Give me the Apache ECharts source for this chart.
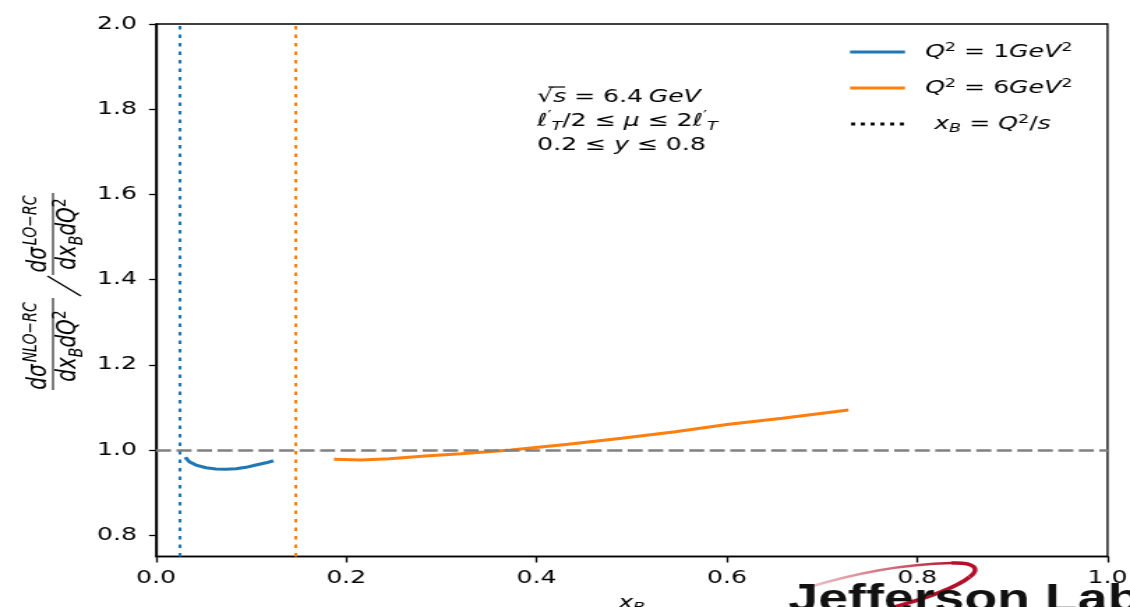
<!DOCTYPE html>
<html><head><meta charset="utf-8">
<script src="https://cdn.jsdelivr.net/npm/echarts@6.0.0/dist/echarts.min.js"></script>
<style>
html,body{margin:0;padding:0;background:#fff;overflow:hidden;width:1130px;height:607px}
#c{width:810px;height:607px;transform:scaleX(1.3950617);transform-origin:0 0}
</style></head><body><div id="c"></div>
<script>
// ---- data ----
const q1X = [0.0308, 0.035, 0.042, 0.0526, 0.063, 0.0736, 0.0841, 0.0946, 0.105, 0.1157, 0.1234];
const q1Y = [0.983, 0.9725, 0.9647, 0.9584, 0.9553, 0.9546, 0.956, 0.9593, 0.9647, 0.970, 0.9748];
const q6X = [0.187, 0.2153, 0.2453, 0.2829, 0.3204, 0.373, 0.4331, 0.4894, 0.5457, 0.602, 0.6583, 0.7277];
const q6Y = [0.978, 0.9765, 0.9796, 0.9859, 0.9913, 1.0, 1.0134, 1.0275, 1.043, 1.0605, 1.0746, 1.0941];
const xbLines = [0.0244, 0.1465];          // x_B = Q^2/s for Q^2 = 1 and 6 GeV^2
const refY = 1.0;
const yTicks = [0.8, 1.0, 1.2, 1.4, 1.6, 1.8, 2.0];
const seriesNames = ['Q1', 'Q6', 'xB'];
const colors = ['#1f77b4', '#ff7f0e', '#000000'];

const F = 'DejaVu Sans';
const legendText = {
  Q1: '{q0|Q}{s|2}{n| = 1}{q|GeV}{s|2}',
  Q6: '{q0|Q}{s|2}{n| = 6}{q|GeV}{s|2}',
  xB: '{x0|x}{b|B}{n| = }{q|Q}{s|2}{n|/}{q|s}'
};
const legRich = {
  q0: {fontFamily: F, fontStyle: 'italic', fontSize: 18, lineHeight: 22, color: '#000', padding: [0, 0, 0, 9.5]},
  x0: {fontFamily: F, fontStyle: 'italic', fontSize: 18, lineHeight: 22, color: '#000', padding: [0, 0, 0, 16]},
  q: {fontFamily: F, fontStyle: 'italic', fontSize: 18, lineHeight: 22, color: '#000'},
  n: {fontFamily: F, fontSize: 18, lineHeight: 22, color: '#000'},
  s: {fontFamily: F, fontSize: 12.6, lineHeight: 13, verticalAlign: 'top', color: '#000'},
  b: {fontFamily: F, fontStyle: 'italic', fontSize: 12.6, lineHeight: 16, verticalAlign: 'bottom', color: '#000'}
};
const labRich = {
  m: {fontFamily: F, fontStyle: 'italic', fontSize: 20, lineHeight: 26, color: '#000'},
  p: {fontFamily: F, fontStyle: 'italic', fontSize: 14, lineHeight: 14, verticalAlign: 'top', color: '#000', padding: [0, 0, 0, 2]},
  u: {fontFamily: F, fontSize: 14, lineHeight: 14, verticalAlign: 'top', color: '#000'},
  b: {fontFamily: F, fontStyle: 'italic', fontSize: 14, lineHeight: 18, verticalAlign: 'bottom', color: '#000'}
};
const annRich = {
  n: {fontFamily: F, fontSize: 18, lineHeight: 24, color: '#000'},
  i: {fontFamily: F, fontStyle: 'italic', fontSize: 18, lineHeight: 24, color: '#000'},
  g: {fontFamily: F, fontStyle: 'italic', fontSize: 18, lineHeight: 24, color: '#000', padding: [0, 0, 0, 4]},
  ps: {fontFamily: F, fontSize: 12.6, lineHeight: 12, verticalAlign: 'top', color: '#000'},
  sb: {fontFamily: F, fontStyle: 'italic', fontSize: 12.6, lineHeight: 16, verticalAlign: 'bottom', color: '#000'}
};

const chart = echarts.init(document.getElementById('c'), null, {renderer: 'canvas'});
const pairs = (xs, ys) => xs.map((x, i) => [x, ys[i]]);
const dotted = (c) => ({color: c, width: 2.1, type: [3.5, 5]});
const swooshGrad = new echarts.graphic.LinearGradient(0, 0, 1, 0, [
  {offset: 0, color: 'rgba(225,160,170,0.6)'}, {offset: 1, color: '#b5102a'}]);

const option = {
  animation: false,
  backgroundColor: '#fff',
  grid: {left: 111.8, right: 16.1, top: 24, bottom: 50.5, containLabel: false, outerBoundsMode: 'none',
    show: true, borderColor: '#000', borderWidth: 1.3, backgroundColor: 'transparent'},
  xAxis: {
    type: 'value', min: 0, max: 1, interval: 0.2,
    name: '{i|x}{b|B}', nameLocation: 'middle', nameGap: 36,
    nameTextStyle: {rich: {i: legRich.q, b: legRich.b}},
    axisLine: {lineStyle: {color: '#000', width: 1.3}},
    axisTick: {inside: false, length: 6, lineStyle: {color: '#000', width: 1.3}},
    axisLabel: {fontFamily: F, fontSize: 18, color: '#000', margin: 13, formatter: v => v.toFixed(1)},
    splitLine: {show: false}
  },
  yAxis: {
    type: 'value', min: 0.75, max: 2.0,
    axisLine: {show: true, lineStyle: {color: '#000', width: 1.3}},
    axisTick: {show: true, length: 5, customValues: yTicks, lineStyle: {color: '#000', width: 1.3}},
    axisLabel: {fontFamily: F, fontSize: 18, color: '#000', margin: 13.6, customValues: yTicks, formatter: v => v.toFixed(1)},
    splitLine: {show: false}
  },
  legend: {
    orient: 'vertical', left: 609.3, top: 41, itemGap: 16, padding: 0,
    itemWidth: 39.4, itemHeight: 2.8,
    data: [
      {name: 'Q1', icon: 'rect'},
      {name: 'Q6', icon: 'rect'},
      {name: 'xB', icon: 'path://M0,0h4v4h-4z M10,0h4v4h-4z M20,0h4v4h-4z M30,0h4v4h-4z M40,0h4v4h-4z M50,0h4v4h-4z'}
    ],
    formatter: n => legendText[n],
    textStyle: {color: '#000', rich: legRich}
  },
  series: [
    {
      name: seriesNames[0], type: 'line', showSymbol: false, smooth: false,
      data: pairs(q1X, q1Y), color: colors[0],
      lineStyle: {color: colors[0], width: 3}, z: 3,
      markLine: {silent: true, precision: 6, symbol: 'none', label: {show: false}, lineStyle: dotted(colors[0]), data: [{xAxis: xbLines[0]}]}
    },
    {
      name: seriesNames[1], type: 'line', showSymbol: false, smooth: false,
      data: pairs(q6X, q6Y), color: colors[1],
      lineStyle: {color: colors[1], width: 3}, z: 3,
      markLine: {silent: true, precision: 6, symbol: 'none', label: {show: false}, lineStyle: dotted(colors[1]), data: [{xAxis: xbLines[1]}]}
    },
    {
      name: seriesNames[2], type: 'line', data: [], color: colors[2],
      lineStyle: {color: colors[2], type: 'dotted', width: 2}
    },
    {
      name: 'ref', type: 'line', data: [], color: '#808080',
      markLine: {silent: true, precision: 6, symbol: 'none', label: {show: false},
        lineStyle: {color: '#808080', width: 2.6, type: [10.8, 3.9]}, data: [{yAxis: refY}]}
    }
  ],
  graphic: [
    {
      type: 'group', x: 38, y: 392, rotation: Math.PI / 2,
      children: [
        {type: 'text', x: 46, y: -10, style: {text: '{m|dσ}{p|NLO−RC}', rich: labRich, align: 'center', verticalAlign: 'middle'}},
        {type: 'line', shape: {x1: 2, y1: 0, x2: 94, y2: 0}, style: {stroke: '#000', lineWidth: 1}},
        {type: 'text', x: 46, y: 11, style: {text: '{m|dx}{b|B}{m|dQ}{u|2}', rich: labRich, align: 'center', verticalAlign: 'middle'}},
        {type: 'line', shape: {x1: 96, y1: 20, x2: 116, y2: -4}, style: {stroke: '#000', lineWidth: 1.3}},
        {type: 'text', x: 158, y: -10, style: {text: '{m|dσ}{p|LO−RC}', rich: labRich, align: 'center', verticalAlign: 'middle'}},
        {type: 'line', shape: {x1: 117, y1: 0, x2: 199, y2: 0}, style: {stroke: '#000', lineWidth: 1}},
        {type: 'text', x: 158, y: 11, style: {text: '{m|dx}{b|B}{m|dQ}{u|2}', rich: labRich, align: 'center', verticalAlign: 'middle'}}
      ]
    },
    {
      type: 'text', x: 385, y: 85,
      style: {
        text: '{n|√}{i|s}{n| = 6.4}{g|GeV}\n{i|ℓ}{ps|′}{sb|T}{n|/2 ≤ }{i|μ}{n| ≤ 2}{i|ℓ}{ps|′}{sb|T}\n{n|0.2 ≤ }{i|y}{n| ≤ 0.8}',
        rich: annRich
      }
    },
    {type: 'line', shape: {x1: 393, y1: 87, x2: 405, y2: 87}, style: {stroke: '#000', lineWidth: 1.2}},
    {type: 'bezierCurve', z: -1, shape: {x1: 578, y1: 588, cpx1: 615, cpy1: 572, cpx2: 652, cpy2: 564, x2: 682, y2: 563},
      style: {fill: 'none', lineWidth: 2.5, stroke: swooshGrad}},
    {type: 'bezierCurve', z: -1, shape: {x1: 682, y1: 563, cpx1: 699, cpy1: 562, cpx2: 703, cpy2: 569, x2: 695, y2: 577},
      style: {fill: 'none', lineWidth: 3.5, stroke: '#b5102a'}},
    {type: 'bezierCurve', z: -1, shape: {x1: 695, y1: 577, cpx1: 685, cpy1: 588, cpx2: 665, cpy2: 598, x2: 636, y2: 609},
      style: {fill: 'none', lineWidth: 3.5, stroke: '#b5102a'}},
    {
      type: 'text', z: -1, x: 565, y: 581,
      style: {text: 'Jefferson Lab', font: 'bold 38.5px "Liberation Sans"', fill: '#111'}
    }
  ]
};
chart.setOption(option);
</script></body></html>
